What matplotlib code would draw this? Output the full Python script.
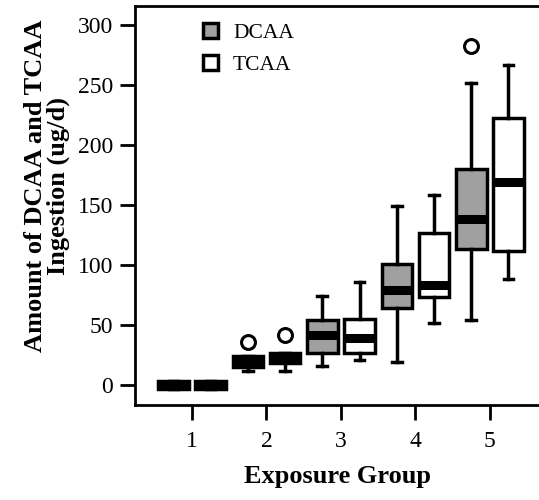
import matplotlib
matplotlib.use('Agg')
import matplotlib.pyplot as plt
from matplotlib.patches import Patch

plt.rcParams['font.family'] = ['Liberation Serif', 'DejaVu Serif']

# Datos (ug/d)
grupos = [1, 2, 3, 4, 5]
etiquetas = ['1', '2', '3', '4', '5']

dcaa_whislo = [-3, 12, 16, 19, 54]
dcaa_q1 = [-3, 15, 27, 64, 113]
dcaa_med = [0, 20, 42, 79, 138]
dcaa_q3 = [3, 24, 54, 101, 180]
dcaa_whishi = [3, 24, 74, 149, 252]
dcaa_fliers = [[], [36], [], [], [283]]

tcaa_whislo = [-3, 12, 21, 52, 88]
tcaa_q1 = [-3, 18, 27, 73, 112]
tcaa_med = [0, 22, 39, 83, 169]
tcaa_q3 = [3, 27, 55, 127, 223]
tcaa_whishi = [3, 27, 86, 158, 267]
tcaa_fliers = [[], [42], [], [], []]


def armar_stats(lo, q1, med, q3, hi, fl):
    stats = []
    for i in range(len(med)):
        stats.append({'whislo': lo[i], 'q1': q1[i], 'med': med[i],
                      'q3': q3[i], 'whishi': hi[i], 'fliers': fl[i]})
    return stats


fig = plt.figure(figsize=(5.39, 5.0), dpi=100)
ax = fig.add_axes([0.2505, 0.19, 0.7495, 0.798])

estilo = dict(
    widths=0.41, patch_artist=True,
    boxprops=dict(edgecolor='black', linewidth=2.5),
    medianprops=dict(color='black', linewidth=6.5, solid_capstyle='butt'),
    whiskerprops=dict(color='black', linewidth=2.5),
    capprops=dict(color='black', linewidth=2.5),
    flierprops=dict(marker='o', markersize=10, markerfacecolor='none',
                    markeredgecolor='black', markeredgewidth=2.2),
    capwidths=0.13,
)

pos_d = [g - 0.25 for g in grupos]
pos_t = [g + 0.25 for g in grupos]

bd = ax.bxp(armar_stats(dcaa_whislo, dcaa_q1, dcaa_med, dcaa_q3, dcaa_whishi, dcaa_fliers),
            positions=pos_d, **estilo)
bt = ax.bxp(armar_stats(tcaa_whislo, tcaa_q1, tcaa_med, tcaa_q3, tcaa_whishi, tcaa_fliers),
            positions=pos_t, **estilo)
for b in bd['boxes']:
    b.set_facecolor('#a0a0a0')
for b in bt['boxes']:
    b.set_facecolor('white')

ax.set_xlim(0.235, 5.66)
ax.set_ylim(-16.7, 316)
ax.set_xticks(grupos)
ax.set_xticklabels(etiquetas)
ax.set_yticks([0, 50, 100, 150, 200, 250, 300])
ax.tick_params(direction='out', length=11, width=2, labelsize=17, pad=5)
ax.tick_params(axis='x', pad=8)
for s in ['left', 'bottom', 'top']:
    ax.spines[s].set_linewidth(2)
ax.spines['right'].set_visible(False)

ax.set_xlabel('Exposure Group', fontsize=19, fontweight='bold', labelpad=9)
ax.set_ylabel('Amount of DCAA and TCAA\nIngestion (ug/d)', fontsize=19,
              fontweight='bold', linespacing=1.0)
ax.yaxis.set_label_coords(-0.16, 0.55)

handles = [Patch(facecolor='#a0a0a0', edgecolor='black', linewidth=2.5, label='DCAA'),
           Patch(facecolor='white', edgecolor='black', linewidth=2.5, label='TCAA')]
ax.legend(handles=handles, loc='upper left', bbox_to_anchor=(0.12, 1.005),
          frameon=False, fontsize=15.5, handlelength=0.7, handleheight=0.7,
          handletextpad=0.7, labelspacing=0.55)

plt.savefig('out.png', dpi=100)
